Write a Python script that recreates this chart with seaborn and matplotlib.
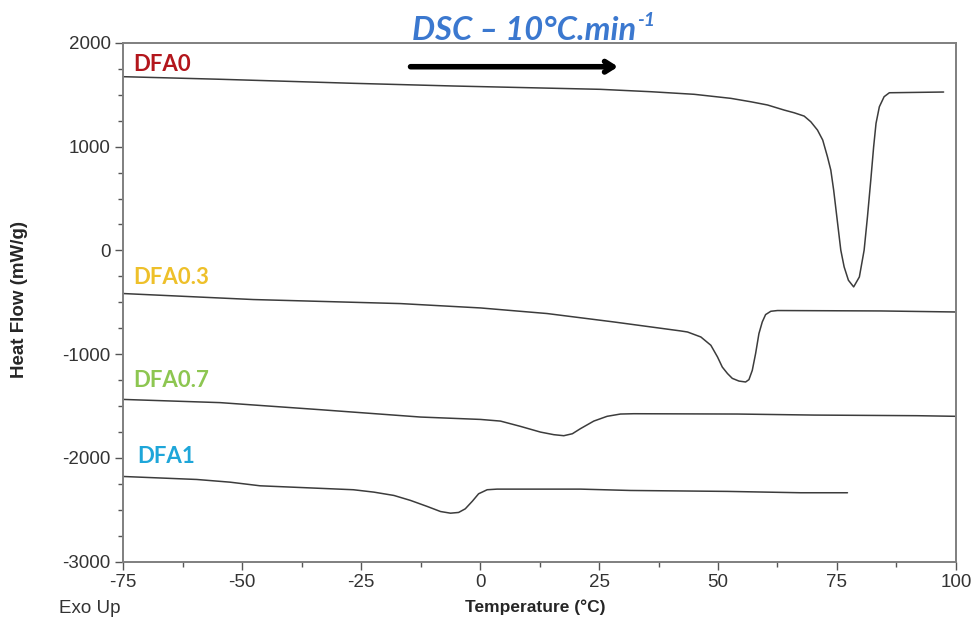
import matplotlib
matplotlib.use("Agg")
import matplotlib.pyplot as plt
from matplotlib.ticker import MultipleLocator
import seaborn as sns
import pandas as pd

# values (Temperature in °C, Heat Flow in mW/g)
dfa0_t = [-75, -54.6, -26.6, -5.5, 25.3, 35.9, 45.0, 52.7, 56.9, 60.4, 63.9, 66.0, 68.1, 69.5,
          70.9, 72.0, 73.0, 73.7, 74.3, 74.8, 75.3, 75.8, 76.5, 77.4, 78.5, 79.7, 80.7,
          81.4, 82.1, 82.7, 83.2, 83.9, 84.9, 86.0, 97.4]
dfa0_h = [1675, 1650, 1611, 1585, 1553, 1530, 1505, 1466, 1433, 1402, 1353, 1327, 1295, 1240,
          1160, 1064, 902, 774, 581, 388, 195, 2, -159, -288, -352, -256, 2,
          323, 678, 999, 1225, 1385, 1482, 1520, 1527]

dfa03_t = [-75, -47.6, -16.7, 0.1, 14.1, 28.1, 42.2, 43.6, 46.4, 48.5, 49.9, 50.9, 52.0,
           53.0, 54.4, 55.8, 56.5, 57.2, 57.9, 58.6, 59.3, 60.0, 61.1, 62.5, 84.2, 100]
dfa03_h = [-416, -474, -513, -555, -609, -690, -777, -787, -835, -915, -1028, -1125, -1188,
           -1234, -1260, -1269, -1246, -1157, -995, -802, -690, -619, -587, -580, -584, -594]

dfa07_t = [-75, -54.6, -33.6, -12.5, 0.1, 4.3, 8.5, 12.7, 15.5, 17.6, 19.4, 21.1, 23.9,
           26.7, 29.5, 32.3, 54.1, 70.2, 91.9, 100]
dfa07_h = [-1437, -1468, -1536, -1607, -1630, -1646, -1697, -1752, -1777, -1787, -1768, -1719, -1646,
           -1600, -1578, -1575, -1578, -1588, -1594, -1600]

dfa1_t = [-75, -59.5, -52.5, -46.2, -36.4, -26.6, -22.3, -18.1, -14.6, -11.1, -8.3, -6.2,
          -4.5, -3.1, -1.6, -0.3, 1.5, 3.6, 21.1, 31.6, 52.0, 67.4, 77.2]
dfa1_h = [-2180, -2209, -2235, -2270, -2289, -2308, -2331, -2363, -2411, -2469, -2518, -2534,
          -2527, -2492, -2418, -2347, -2308, -2302, -2302, -2315, -2324, -2337, -2337]

series_names = ["DFA0", "DFA0.3", "DFA0.7", "DFA1"]
label_colors = ["#B3161C", "#EEC02A", "#8DC651", "#1EA6D9"]
label_pos = [(-72.9, 1730), (-72.9, -326), (-72.9, -1318), (-72.1, -2054)]

sns.set_style("white")
plt.rcParams["font.family"] = ["Liberation Sans", "DejaVu Sans"]
plt.rcParams["axes.unicode_minus"] = False

fig = plt.figure(figsize=(9.75, 6.21), dpi=100)
ax = fig.add_axes([0.1262, 0.0958, 0.8543, 0.835])

curves = [(dfa0_t, dfa0_h), (dfa03_t, dfa03_h), (dfa07_t, dfa07_h), (dfa1_t, dfa1_h)]
for name, (t, h) in zip(series_names, curves):
    df = pd.DataFrame({"Temperature": t, "HeatFlow": h})
    sns.lineplot(data=df, x="Temperature", y="HeatFlow", sort=False, ax=ax,
                 color="#3c3c3c", linewidth=1.1, estimator=None)

for name, col, (x, y) in zip(series_names, label_colors, label_pos):
    ax.text(x, y, name, color=col, fontsize=16, fontweight="bold",
            family=["Lato", "DejaVu Sans"], va="baseline", ha="left")

# heating direction arrow
ax.annotate("", xy=(29.0, 1771), xytext=(-14.6, 1771),
            arrowprops=dict(arrowstyle="->,head_length=0.6,head_width=0.38",
                            color="black", lw=4, shrinkA=0, shrinkB=0,
                            capstyle="round", joinstyle="round"))

ax.set_xlim(-75, 100)
ax.set_ylim(-3000, 2000)
ax.xaxis.set_major_locator(MultipleLocator(25))
ax.xaxis.set_minor_locator(MultipleLocator(12.5))
ax.yaxis.set_major_locator(MultipleLocator(1000))
ax.yaxis.set_minor_locator(MultipleLocator(250))
ax.tick_params(which="major", direction="out", length=6, width=1, color="#555555",
               labelsize=13.5, labelcolor="#333333", bottom=True, left=True, pad=3)
ax.tick_params(which="minor", direction="out", length=3.5, width=1, color="#555555",
               bottom=True, left=True)
for sp in ax.spines.values():
    sp.set_color("#7f7f7f")
    sp.set_linewidth(1.4)

ax.set_xlabel("Temperature (°C)", fontsize=12.5, fontweight="bold")
ax.set_ylabel("Heat Flow (mW/g)", fontsize=13.5, fontweight="bold")
ax.xaxis.set_label_coords((535 - 123) / 833, -(607 - 561.5) / 518.5)
ax.yaxis.set_label_coords(-(123 - 19) / 833, (561.5 - 300) / 518.5)
ax.xaxis.label.set_va("center")
ax.yaxis.label.set_va("center")
fig.text(59 / 975, 1 - 613 / 621, "Exo Up", fontsize=13.5, color="#333333", va="baseline")

# title with superscript
t1 = fig.text(412 / 975, 1 - 39.5 / 621, "DSC – 10°C.min", color="#3B78CF", fontsize=23.5,
              fontweight="bold", style="italic", family=["Lato", "DejaVu Sans"], va="baseline")
fig.canvas.draw()
bb = t1.get_window_extent()
fig.text((bb.x1 + 1) / fig.bbox.width, 1 - 26.5 / 621, "-1", color="#3B78CF", fontsize=14,
         fontweight="bold", style="italic", family=["Lato", "DejaVu Sans"], va="baseline")

fig.savefig("out.png", dpi=100)
